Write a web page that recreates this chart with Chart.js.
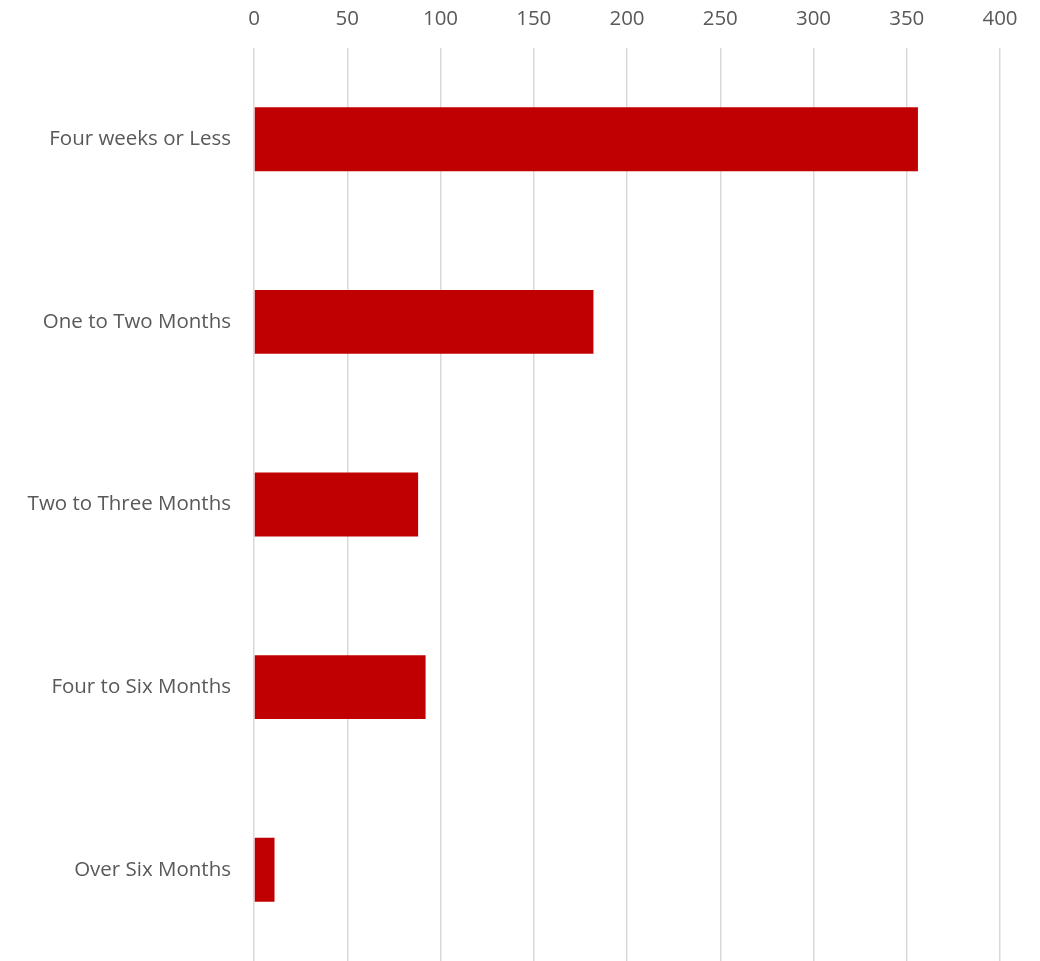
<!DOCTYPE html>
<html>
<head>
<meta charset="utf-8">
<script src="https://cdn.jsdelivr.net/npm/chart.js@4.4.0/dist/chart.umd.min.js"></script>
<style>
  html, body { margin: 0; padding: 0; background: #fff; overflow: hidden; }
  canvas { display: block; }
</style>
</head>
<body>
<canvas id="chart" width="1040" height="961"></canvas>
<script>
const categories = ["Four weeks or Less", "One to Two Months", "Two to Three Months", "Four to Six Months", "Over Six Months"];
const counts = [356, 182, 88, 92, 11];
const xTicks = [0, 50, 100, 150, 200, 250, 300, 350, 400];

// drop the label padding chart.js keeps round the axes
const noPad = (axis) => {
  axis.paddingTop = 0;
  axis.paddingBottom = 0;
  axis.paddingLeft = 0;
  axis.paddingRight = 0;
};

const ctx = document.getElementById("chart").getContext("2d");
new Chart(ctx, {
  type: "bar",
  data: {
    labels: categories,
    datasets: [
      {
        data: counts,
        backgroundColor: "#C00000",
        borderWidth: 0,
        barPercentage: 0.35,
        categoryPercentage: 1,
      },
    ],
  },
  options: {
    indexAxis: "y",
    responsive: false,
    animation: false,
    layout: { padding: { right: 40, bottom: 0, top: 0, left: 0 } },
    plugins: { legend: { display: false }, tooltip: { enabled: false } },
    scales: {
      x: {
        position: "top",
        min: 0,
        max: 400,
        afterBuildTicks: (axis) => {
          axis.ticks = xTicks.map((v) => ({ value: v }));
        },
        afterFit: (axis) => {
          axis.height = 48;
          noPad(axis);
        },
        grid: { color: "#d9d9d9", lineWidth: 1.5, drawTicks: false },
        border: { display: false },
        ticks: {
          color: "#595959",
          padding: 17,
          font: { family: "Open Sans", size: 20.5 },
        },
      },
      y: {
        afterFit: (axis) => {
          axis.width = 254;
          noPad(axis);
        },
        grid: { display: false, drawTicks: false },
        border: { display: false },
        ticks: {
          color: "#595959",
          padding: 23,
          font: { family: "Open Sans", size: 20.5 },
        },
      },
    },
  },
});
</script>
</body>
</html>
